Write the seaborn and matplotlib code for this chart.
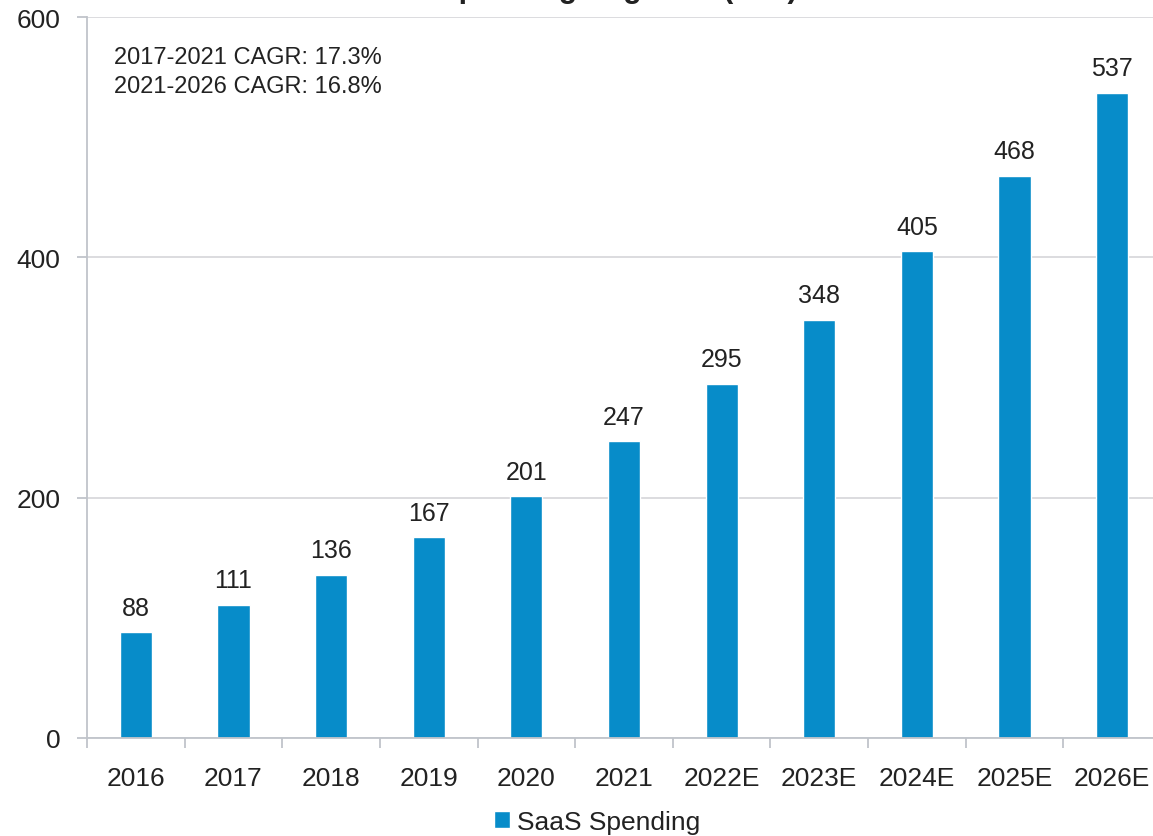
import seaborn as sns
import matplotlib.pyplot as plt
from matplotlib.ticker import FixedLocator

years = ['2016', '2017', '2018', '2019', '2020', '2021',
         '2022E', '2023E', '2024E', '2025E', '2026E']
spending = [88, 111, 136, 167, 201, 247, 295, 348, 405, 468, 537]
cagr_notes = ['2017-2021 CAGR: 17.3%', '2021-2026 CAGR: 16.8%']
title = 'SaaS Spending Segment ($bn)'

sns.set_style('white')
plt.rcParams['font.family'] = ['Liberation Sans', 'DejaVu Sans']

fig = plt.figure(figsize=(11.53, 8.37), dpi=100)
ax = fig.add_axes([87 / 1153, 1 - 739 / 837, 1074 / 1153, 721 / 837])

sns.barplot(x=years, y=spending, color='#078CC9', width=0.33,
            saturation=1, label='SaaS Spending', ax=ax)

ax.bar_label(ax.containers[0], fmt='%d', padding=9, fontsize=18, color='#222222')

ax.set_ylim(0, 600)
ax.set_xlim(-0.5, 10.5)
ax.set_yticks([0, 200, 400, 600])
ax.yaxis.grid(True, color='#D9D9DC', linewidth=1.3)
ax.set_axisbelow(True)

for s in ['top', 'right']:
    ax.spines[s].set_visible(False)
ax.spines['left'].set_color('#C0C4CA')
ax.spines['bottom'].set_color('#C0C4CA')
ax.spines['left'].set_linewidth(1.3)
ax.spines['bottom'].set_linewidth(1.3)

ax.xaxis.set_minor_locator(FixedLocator([i - 0.5 for i in range(12)]))
ax.tick_params(axis='x', which='major', length=0, pad=20, labelsize=19, labelcolor='#222222')
ax.tick_params(axis='x', which='minor', length=7, width=1.3, color='#C0C4CA', bottom=True)
ax.tick_params(axis='y', length=7, width=1.3, color='#C0C4CA', pad=12,
               labelsize=19, labelcolor='#222222', left=True)

ax.text(27 / 1074, 0.96, cagr_notes[0] + '\n' + cagr_notes[1], transform=ax.transAxes,
        fontsize=17, color='#222222', va='top', linespacing=1.45)

# title sits mostly above the canvas, as in the source image
fig.text(0.5, 1.004, title, ha='center', va='baseline', fontsize=22,
         fontweight='bold', color='#222222')

ax.legend(loc='center', bbox_to_anchor=(597 / 1153, 1 - 823 / 837),
          bbox_transform=fig.transFigure, frameon=False, fontsize=19,
          handlelength=0.6, handleheight=0.6, handletextpad=0.25,
          labelcolor='#222222')

fig.savefig('out.png', dpi=100)
